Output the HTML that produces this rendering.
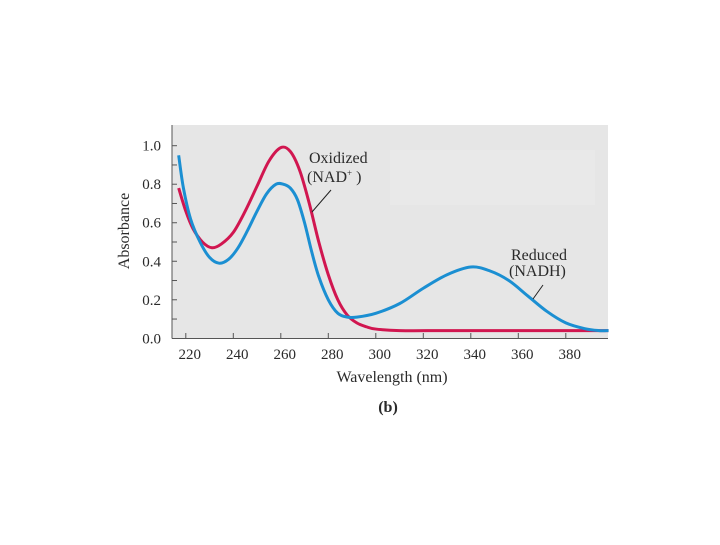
<!DOCTYPE html>
<html><head><meta charset="utf-8"><style>
body{margin:0;background:#fff;width:720px;height:540px;overflow:hidden}
svg text{font-family:"Liberation Serif",serif;fill:#2a2a2a}
</style></head><body>
<svg width="720" height="540">
<rect x="172" y="125" width="436" height="213" fill="#e6e6e6"/>
<rect x="390" y="150" width="205" height="55" fill="#e9e9e9"/>
<g id="axes"></g>
<g id="series"></g>
<text x="129" y="231" font-size="16" text-anchor="middle" transform="rotate(-90 129 231)">Absorbance</text>
<text x="392" y="382" font-size="16" text-anchor="middle">Wavelength (nm)</text>
<text x="388" y="412" font-size="16" font-weight="bold" text-anchor="middle">(b)</text>
<text x="309" y="163" font-size="16">Oxidized</text>
<text x="307" y="182" font-size="16">(NAD<tspan font-size="9" dy="-6">+</tspan><tspan dy="6"> )</tspan></text>
<line x1="331" y1="190" x2="312" y2="212" stroke="#222" stroke-width="1"/>
<text x="511" y="260" font-size="16">Reduced</text>
<text x="509" y="276" font-size="16">(NADH)</text>
<line x1="543" y1="285" x2="533" y2="299" stroke="#222" stroke-width="1"/>
</svg>
<script>
const xTicks=[220,240,260,280,300,320,340,360,380];
const yTicks=[0.0,0.2,0.4,0.6,0.8,1.0];
const oxWl=[217,220,223,227,231,235,240,245,250,255,260,264,268,272,276,280,284,288,292,296,300,310,330,360,398];
const oxAbs=[0.78,0.66,0.57,0.5,0.47,0.49,0.55,0.66,0.79,0.92,0.99,0.97,0.87,0.7,0.5,0.33,0.2,0.12,0.08,0.06,0.048,0.04,0.04,0.04,0.04];
const redWl=[217,219,222,226,230,234,238,242,246,250,254,258,261,264,267,270,273,276,280,284,288,292,300,310,320,330,340,348,356,364,372,380,388,394,398];
const redAbs=[0.95,0.78,0.62,0.5,0.42,0.39,0.41,0.47,0.56,0.66,0.75,0.8,0.8,0.78,0.72,0.6,0.45,0.32,0.2,0.13,0.11,0.11,0.13,0.18,0.26,0.33,0.37,0.35,0.3,0.22,0.14,0.08,0.05,0.04,0.04];
const NS="http://www.w3.org/2000/svg";
const X=v=>185.8+(v-220)*47.5/20;
const Y=v=>338.3-v*192.6;
const ax=document.getElementById('axes');
function mk(t,a,p){const e=document.createElementNS(NS,t);for(const k in a)e.setAttribute(k,a[k]);p.appendChild(e);return e;}
let l=mk('line',{x1:172,y1:125,x2:172,y2:338.5,stroke:'#555','stroke-width':1},ax);


l=mk('line',{x1:172,y1:338.5,x2:608,y2:338.5,stroke:'#555','stroke-width':1},ax);


xTicks.forEach(v=>{
 const t=mk('line',{x1:X(v),y1:338,x2:X(v),y2:333,stroke:'#555'},ax);
 
 
 const s=mk('text',{x:X(v)+4,y:359,'font-size':15,'text-anchor':'middle'},ax);s.textContent=v;
 
 
});
for(let v=0.1;v<1.05;v+=0.1){const t=mk('line',{x1:172,y1:Y(v),x2:177,y2:Y(v),stroke:'#555'},ax);
 
 }
yTicks.forEach(v=>{
 const s=mk('text',{x:161,y:Y(v)+5,'font-size':15,'text-anchor':'end'},ax);s.textContent=v.toFixed(1);
 
 
});
function path(xs,ys){const p=xs.map((x,i)=>[X(x),Y(ys[i])]);let d='M'+p[0][0]+','+p[0][1];
 for(let i=0;i<p.length-1;i++){const p0=p[i-1]||p[i],p1=p[i],p2=p[i+1],p3=p[i+2]||p2;
 d+=` C${p1[0]+(p2[0]-p0[0])/6},${p1[1]+(p2[1]-p0[1])/6} ${p2[0]-(p3[0]-p1[0])/6},${p2[1]-(p3[1]-p1[1])/6} ${p2[0]},${p2[1]}`;}return d;}
const sg=document.getElementById('series');
const ox=mk('path',{d:path(oxWl,oxAbs),fill:'none',stroke:'#d11650','stroke-width':3,'stroke-linejoin':'round'},sg);


const rd=mk('path',{d:path(redWl,redAbs),fill:'none',stroke:'#1b8fd2','stroke-width':3,'stroke-linejoin':'round'},sg);


</script>
</body></html>
